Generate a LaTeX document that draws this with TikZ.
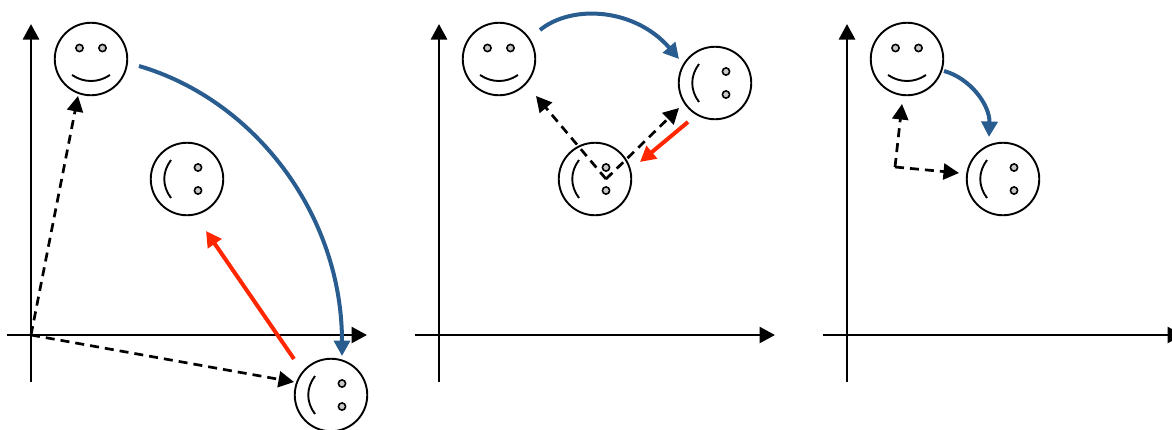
\documentclass[tikz,border=0pt]{standalone}
\usetikzlibrary{arrows.meta}
\definecolor{bluearc}{RGB}{41,92,143}
\definecolor{redarc}{RGB}{255,38,0}
\definecolor{eyegray}{RGB}{200,200,200}
\tikzset{
  x=1pt,y=-1pt,
  facecircle/.style={circle,draw=black,line width=1.9pt,minimum size=72.5pt,inner sep=0pt,fill=white},
  axisline/.style={line width=2.7pt,black,-{Triangle[length=15.5pt,width=16pt]}},
  dashedvec/.style={line width=2.7pt,black,dash pattern=on 9pt off 6pt,-{Triangle[length=15.5pt,width=16pt]}},
  bluevec/.style={line width=4pt,bluearc,-{Triangle[length=15.5pt,width=16pt]}},
  redvec/.style={line width=4pt,redarc,-{Triangle[length=15.5pt,width=16pt]}},
  eyestyle/.style={draw=black,line width=1.6pt,fill=eyegray},
  mouthstyle/.style={draw=black,line width=1.9pt},
  smileface/.pic={
    \path[eyestyle] (-11.5,-11) circle[radius=3.6] (11.5,-11) circle[radius=3.6];
    \draw[mouthstyle] (-19,16) .. controls (-7,24) and (7,24) .. (19,16);
  },
  sideface/.pic={
    \path[eyestyle] (11,-11.5) circle[radius=3.6] (11,11.5) circle[radius=3.6];
    \draw[mouthstyle] (-16,-19) .. controls (-25,-7) and (-25,7) .. (-16,19);
  }
}
\begin{document}
\begin{tikzpicture}
\useasboundingbox (0,0) rectangle (1172,429);
% panel 1
\coordinate (o1x) at (7,335); \coordinate (e1x) at (367,335);
\coordinate (o1y) at (31,382); \coordinate (e1y) at (31,24);
\coordinate (o1) at (31,335);
\draw[axisline] (o1x) -- (e1x);
\draw[axisline] (o1y) -- (e1y);
\node[facecircle] (a1) at (91,59) {}; \pic at (a1) {smileface};
\node[facecircle] (b1) at (187,179) {}; \pic at (b1) {sideface};
\node[facecircle] (c1) at (331,395) {}; \pic at (c1) {sideface};
\coordinate (t1a) at (78,96); \coordinate (t1c) at (294,382);
\draw[dashedvec] (o1) -- (t1a);
\draw[dashedvec] (o1) -- (t1c);
\coordinate (s1b) at (139,66); \coordinate (t1b) at (342,356);
\draw[bluevec] (s1b) .. controls (255,100) and (342,215) .. (t1b);
\coordinate (s1r) at (294,359); \coordinate (t1r) at (206,231);
\draw[redvec] (s1r) -- (t1r);
% panel 2
\coordinate (o2x) at (415,335); \coordinate (e2x) at (775,335);
\coordinate (o2y) at (439,382); \coordinate (e2y) at (439,24);
\draw[axisline] (o2x) -- (e2x);
\draw[axisline] (o2y) -- (e2y);
\node[facecircle] (a2) at (499,59) {}; \pic at (a2) {smileface};
\node[facecircle] (b2) at (715,83) {}; \pic at (b2) {sideface};
\node[facecircle] (c2) at (595,179) {}; \pic at (c2) {sideface};
\coordinate (o2) at (606,179); \coordinate (t2a) at (536,96); \coordinate (t2b) at (679,108);
\draw[dashedvec] (o2) -- (t2a);
\draw[dashedvec] (o2) -- (t2b);
\coordinate (s2b) at (540,30); \coordinate (t2c) at (679,59);
\draw[bluevec] (s2b) .. controls (572,4) and (635,8) .. (t2c);
\coordinate (s2r) at (688,122); \coordinate (t2r) at (640,162);
\draw[redvec] (s2r) -- (t2r);
% panel 3
\coordinate (o3x) at (823,335); \coordinate (e3x) at (1183,335);
\coordinate (o3y) at (847,382); \coordinate (e3y) at (847,24);
\draw[axisline] (o3x) -- (e3x);
\draw[axisline] (o3y) -- (e3y);
\node[facecircle] (a3) at (907,59) {}; \pic at (a3) {smileface};
\node[facecircle] (c3) at (1003,179) {}; \pic at (c3) {sideface};
\coordinate (o3) at (895,167); \coordinate (t3a) at (902,104); \coordinate (t3c) at (959,173);
\draw[dashedvec] (o3) -- (t3a);
\draw[dashedvec] (o3) -- (t3c);
\coordinate (s3b) at (944,71); \coordinate (t3b) at (989,137);
\draw[bluevec] (s3b) .. controls (970,78) and (990,105) .. (t3b);
\end{tikzpicture}
\end{document}
